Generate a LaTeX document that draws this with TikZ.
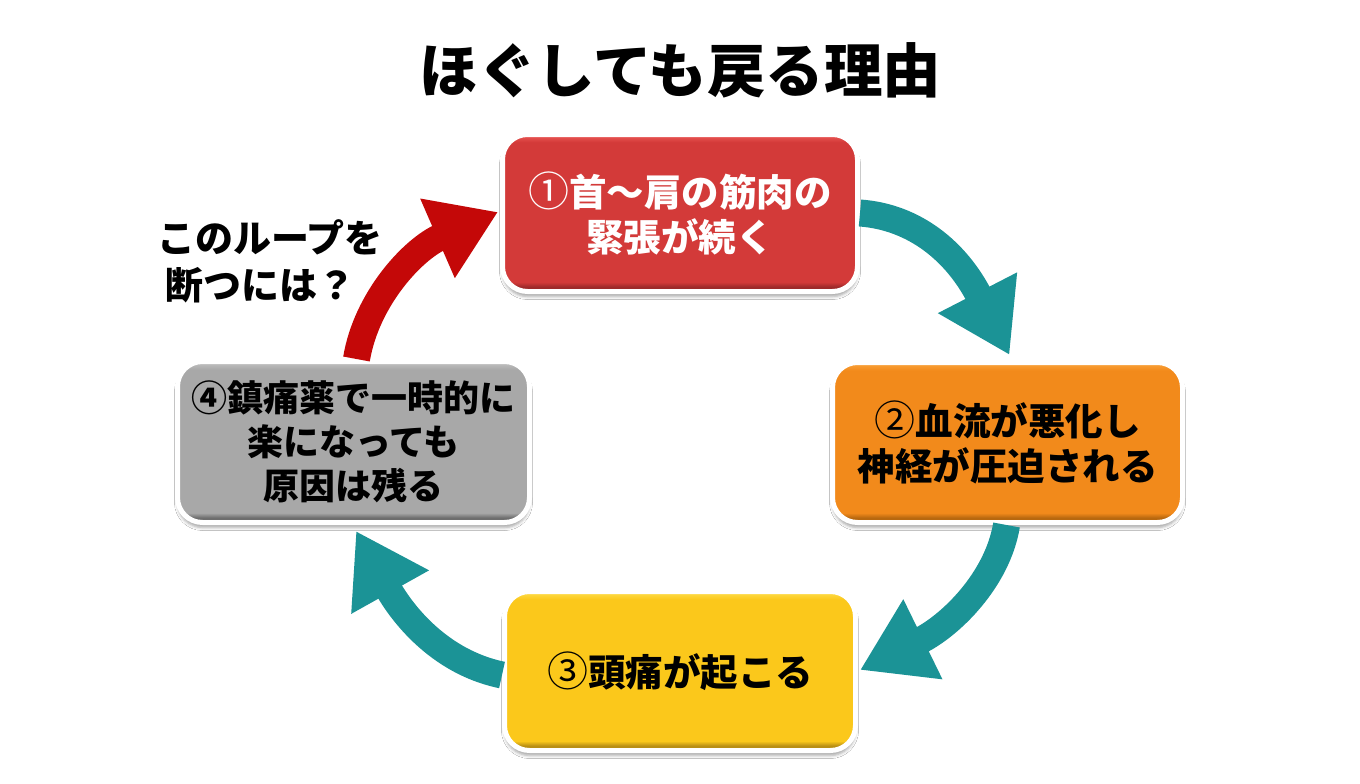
\documentclass[tikz,border=0pt]{standalone}
\usepackage{fontspec}
\setmainfont{Noto Sans CJK JP}
\usetikzlibrary{arrows.meta,calc,shadows.blur}
\definecolor{teal1}{HTML}{1B9396}
\definecolor{redarrow}{HTML}{C40808}
\newcommand{\mkshade}[4]{\pgfdeclareverticalshading{#1}{100bp}{color(0bp)=(#2!100); color(25bp)=(#2!100); color(26.5bp)=(#2!100); color(28bp)=(#3!100); color(72.5bp)=(#3!100); color(75bp)=(#4!100); color(100bp)=(#4!100)}}
\definecolor{rd}{HTML}{9E2A2A}\definecolor{rm}{HTML}{D33A39}\definecolor{rl}{HTML}{EE5A58}
\definecolor{od}{HTML}{B8680F}\definecolor{om}{HTML}{F28A1B}\definecolor{ol}{HTML}{FBA640}
\definecolor{yd}{HTML}{B98F14}\definecolor{ym}{HTML}{FBC81B}\definecolor{yl}{HTML}{FEE050}
\definecolor{gd}{HTML}{6E6E6E}\definecolor{gm}{HTML}{A8A8A8}\definecolor{gl}{HTML}{C4C4C4}
\mkshade{boxred}{rd}{rm}{rl}
\mkshade{boxorange}{od}{om}{ol}
\mkshade{boxyellow}{yd}{ym}{yl}
\mkshade{boxgray}{gd}{gm}{gl}
\newcommand{\ringnum}[1]{{\mdseries\fontsize{41}{45}\selectfont #1}}
\tikzset{
  card/.style={draw=white,line width=5pt,rounded corners=25pt,minimum width=#1,minimum height=157pt,
    inner sep=0pt,align=center,font=\fontsize{37.5}{45}\selectfont\bfseries,
    blur shadow={shadow xshift=0pt,shadow yshift=-5pt,shadow blur radius=3pt,shadow opacity=35}},
  flow/.style={line width=27pt,draw=teal1,-{Triangle[length=70pt,width=84pt]}},
  back/.style={flow,draw=redarrow,-{Triangle[length=66pt,width=82pt]}},
  plain/.style={inner sep=0pt,align=center}
}
\begin{document}
\begin{tikzpicture}[x=1pt,y=-1pt]
\useasboundingbox[fill=white] (0,0) rectangle (1360,784);
\node[plain,font=\fontsize{58.5}{60}\selectfont\bfseries] (title) at (680.5,70) {ほぐしても戻る理由};
\node[card=355pt,shading=boxred,text=white] (n1) at (680,213) {\ringnum{①}首〜肩の筋肉の\\緊張が続く};
\node[card=350pt,minimum height=160pt,shading=boxorange,text=black] (n2) at (1007.5,442.5) {\ringnum{②}血流が悪化し\\神経が圧迫される};
\node[card=351pt,minimum height=159pt,shading=boxyellow,text=black] (n3) at (680,671) {\ringnum{③}頭痛が起こる};
\node[card=352pt,minimum height=161pt,shading=boxgray,text=black,font=\fontsize{36}{44}\selectfont\bfseries] (n4) at (353.5,442) {④鎮痛薬で一時的に\\楽になっても\\原因は残る};
\node[plain,font=\fontsize{38}{47}\selectfont\bfseries] (ask) at (270,261) {このループを\\断つには？\hspace*{20pt}\hbox{}};
\coordinate (t1) at ($(n2.north)+(2,-5)$);
\coordinate (s2) at ($(n2.south)+(-1,0)$);
\coordinate (t2) at ($(n3.east)+(2,-1)$);
\coordinate (s3) at ($(n3.west)+(0,4)$);
\coordinate (t3) at ($(n4.south)+(2.5,6)$);
\coordinate (s4) at ($(n4.north)+(3,0)$);
\coordinate (t4) at ($(n1.west)+(-2,-1)$);
\draw[flow] (n1.east) .. controls +(55,4) and +(-53,-103) .. (t1);
\draw[flow] (s2) .. controls +(-9,55) and +(90,-44) .. (t2);
\draw[flow] (s3) .. controls +(-72,-15) and +(38,68) .. (t3);
\draw[back] (s4) .. controls +(10,-60) and +(-85,37) .. (t4);
\end{tikzpicture}
\end{document}
